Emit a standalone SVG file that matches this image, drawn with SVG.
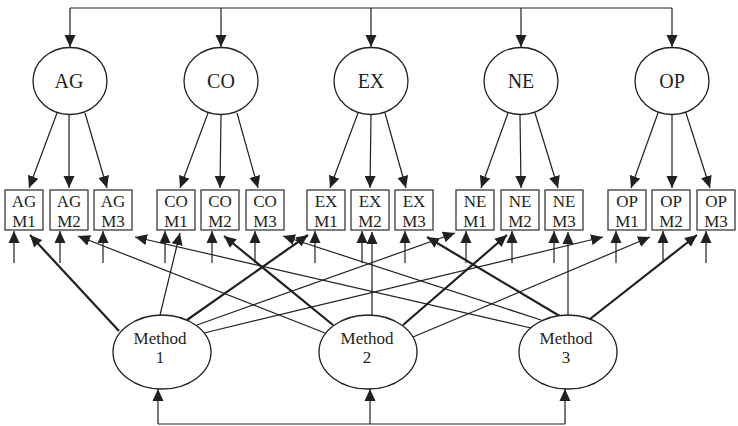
<svg xmlns="http://www.w3.org/2000/svg" width="738" height="426" viewBox="0 0 738 426">
<defs>
<marker id="ah" markerUnits="userSpaceOnUse" markerWidth="12" markerHeight="12" viewBox="0 0 12 12" refX="12" refY="6" orient="auto">
<path d="M0,0.5 L12,6 L0,11.5 Z" fill="#231f20"/>
</marker>
<style>
.ell{fill:#fff;stroke:#231f20;stroke-width:1.3}
.box{fill:#fff;stroke:#3a3a3a;stroke-width:1.3}
.t{font-family:"Liberation Serif","Times New Roman",serif;fill:#231f20;text-anchor:middle}
.lt{font-size:20px}
.bt{font-size:17px}
.mt{font-size:17px}
.c{fill:none;stroke:#231f20;stroke-width:1.2}
.k{fill:none;stroke:#231f20;stroke-width:2.2}
.a{marker-end:url(#ah)}
</style>
</defs>
<g id="connectors">
<path class="c" d="M70,8 H672"/>
<line class="c a" x1="70" y1="8" x2="70" y2="47"/>
<line class="c a" x1="221" y1="8" x2="221" y2="47"/>
<line class="c a" x1="371" y1="8" x2="371" y2="47"/>
<line class="c a" x1="521" y1="8" x2="521" y2="47"/>
<line class="c a" x1="672" y1="8" x2="672" y2="47"/>
<path class="c" d="M158,424 H565"/>
<line class="c a" x1="158" y1="424" x2="158" y2="389"/>
<line class="c a" x1="370" y1="424" x2="370" y2="389"/>
<line class="c a" x1="565" y1="424" x2="565" y2="389"/>
<line class="c a" x1="57" y1="113" x2="29" y2="188"/>
<line class="c a" x1="69" y1="115" x2="69" y2="188"/>
<line class="c a" x1="85" y1="113" x2="107" y2="188"/>
<line class="c a" x1="208" y1="113" x2="180" y2="188"/>
<line class="c a" x1="221" y1="115" x2="220" y2="188"/>
<line class="c a" x1="237" y1="113" x2="258" y2="188"/>
<line class="c a" x1="358" y1="113" x2="330" y2="188"/>
<line class="c a" x1="371" y1="115" x2="370" y2="188"/>
<line class="c a" x1="385" y1="113" x2="406" y2="188"/>
<line class="c a" x1="508" y1="113" x2="481" y2="188"/>
<line class="c a" x1="520" y1="115" x2="521" y2="188"/>
<line class="c a" x1="535" y1="113" x2="558" y2="188"/>
<line class="c a" x1="658" y1="113" x2="631" y2="188"/>
<line class="c a" x1="672" y1="115" x2="672" y2="188"/>
<line class="c a" x1="686" y1="113" x2="710" y2="188"/>
<line class="c a" x1="14" y1="263" x2="14" y2="231"/>
<line class="c a" x1="60" y1="263" x2="60" y2="231"/>
<line class="c a" x1="103" y1="263" x2="103" y2="231"/>
<line class="c a" x1="165" y1="263" x2="165" y2="231"/>
<line class="c a" x1="212" y1="263" x2="212" y2="231"/>
<line class="c a" x1="255" y1="263" x2="255" y2="231"/>
<line class="c a" x1="315" y1="263" x2="315" y2="231"/>
<line class="c a" x1="362" y1="263" x2="362" y2="231"/>
<line class="c a" x1="405" y1="263" x2="405" y2="231"/>
<line class="c a" x1="466" y1="263" x2="466" y2="231"/>
<line class="c a" x1="512" y1="263" x2="512" y2="231"/>
<line class="c a" x1="554" y1="263" x2="554" y2="231"/>
<line class="c a" x1="616" y1="263" x2="616" y2="231"/>
<line class="c a" x1="663" y1="263" x2="663" y2="231"/>
<line class="c a" x1="706" y1="263" x2="706" y2="231"/>
<line class="k a" x1="119" y1="331" x2="30" y2="235"/>
<line class="c a" x1="160" y1="315" x2="180" y2="233"/>
<line class="k a" x1="187" y1="320" x2="308" y2="235"/>
<line class="c a" x1="197" y1="325" x2="455" y2="233"/>
<line class="c a" x1="204" y1="333" x2="603" y2="237"/>
<line class="c a" x1="325" y1="333" x2="78" y2="236"/>
<line class="k a" x1="333" y1="325" x2="224" y2="236"/>
<line class="c a" x1="372" y1="315" x2="372" y2="232"/>
<line class="k a" x1="403" y1="325" x2="507" y2="235"/>
<line class="c a" x1="413" y1="337" x2="650" y2="237"/>
<line class="c a" x1="531" y1="328" x2="135" y2="237"/>
<line class="c a" x1="541" y1="320" x2="283" y2="236"/>
<line class="k a" x1="563" y1="318" x2="427" y2="237"/>
<line class="c a" x1="568" y1="315" x2="568" y2="232"/>
<line class="k a" x1="590" y1="319" x2="697" y2="235"/>
</g>
<g id="AG"><ellipse class="ell" cx="70" cy="81" rx="37" ry="33.5"/><text class="t lt" x="69" y="88">AG</text></g>
<g id="CO"><ellipse class="ell" cx="221" cy="81" rx="37" ry="33.5"/><text class="t lt" x="221" y="88">CO</text></g>
<g id="EX"><ellipse class="ell" cx="371" cy="81" rx="37" ry="33.5"/><text class="t lt" x="371" y="88">EX</text></g>
<g id="NE"><ellipse class="ell" cx="521" cy="81" rx="37" ry="33.5"/><text class="t lt" x="521" y="88">NE</text></g>
<g id="OP"><ellipse class="ell" cx="672" cy="81" rx="37" ry="33.5"/><text class="t lt" x="672" y="88">OP</text></g>
<g id="AGM1"><rect class="box" x="5" y="190" width="38" height="40"/><text class="t bt" x="24" y="207">AG</text><text class="t bt" x="24" y="227">M1</text></g>
<g id="AGM2"><rect class="box" x="50" y="190" width="38" height="40"/><text class="t bt" x="69" y="207">AG</text><text class="t bt" x="69" y="227">M2</text></g>
<g id="AGM3"><rect class="box" x="94" y="190" width="38" height="40"/><text class="t bt" x="113" y="207">AG</text><text class="t bt" x="113" y="227">M3</text></g>
<g id="COM1"><rect class="box" x="157" y="190" width="38" height="40"/><text class="t bt" x="176" y="207">CO</text><text class="t bt" x="176" y="227">M1</text></g>
<g id="COM2"><rect class="box" x="201" y="190" width="38" height="40"/><text class="t bt" x="220" y="207">CO</text><text class="t bt" x="220" y="227">M2</text></g>
<g id="COM3"><rect class="box" x="246" y="190" width="38" height="40"/><text class="t bt" x="265" y="207">CO</text><text class="t bt" x="265" y="227">M3</text></g>
<g id="EXM1"><rect class="box" x="307" y="190" width="38" height="40"/><text class="t bt" x="326" y="207">EX</text><text class="t bt" x="326" y="227">M1</text></g>
<g id="EXM2"><rect class="box" x="351" y="190" width="38" height="40"/><text class="t bt" x="370" y="207">EX</text><text class="t bt" x="370" y="227">M2</text></g>
<g id="EXM3"><rect class="box" x="395" y="190" width="38" height="40"/><text class="t bt" x="414" y="207">EX</text><text class="t bt" x="414" y="227">M3</text></g>
<g id="NEM1"><rect class="box" x="456" y="190" width="38" height="40"/><text class="t bt" x="475" y="207">NE</text><text class="t bt" x="475" y="227">M1</text></g>
<g id="NEM2"><rect class="box" x="501" y="190" width="38" height="40"/><text class="t bt" x="520" y="207">NE</text><text class="t bt" x="520" y="227">M2</text></g>
<g id="NEM3"><rect class="box" x="545" y="190" width="38" height="40"/><text class="t bt" x="564" y="207">NE</text><text class="t bt" x="564" y="227">M3</text></g>
<g id="OPM1"><rect class="box" x="608" y="190" width="38" height="40"/><text class="t bt" x="627" y="207">OP</text><text class="t bt" x="627" y="227">M1</text></g>
<g id="OPM2"><rect class="box" x="652" y="190" width="38" height="40"/><text class="t bt" x="671" y="207">OP</text><text class="t bt" x="671" y="227">M2</text></g>
<g id="OPM3"><rect class="box" x="697" y="190" width="38" height="40"/><text class="t bt" x="716" y="207">OP</text><text class="t bt" x="716" y="227">M3</text></g>
<g id="Method1"><ellipse class="ell" cx="162" cy="352" rx="49" ry="37"/><text class="t mt" x="160" y="344">Method</text><text class="t mt" x="160" y="363">1</text></g>
<g id="Method2"><ellipse class="ell" cx="368" cy="352" rx="49" ry="37"/><text class="t mt" x="367" y="344">Method</text><text class="t mt" x="367" y="363">2</text></g>
<g id="Method3"><ellipse class="ell" cx="568" cy="352" rx="49" ry="37"/><text class="t mt" x="566" y="344">Method</text><text class="t mt" x="566" y="363">3</text></g>
</svg>
